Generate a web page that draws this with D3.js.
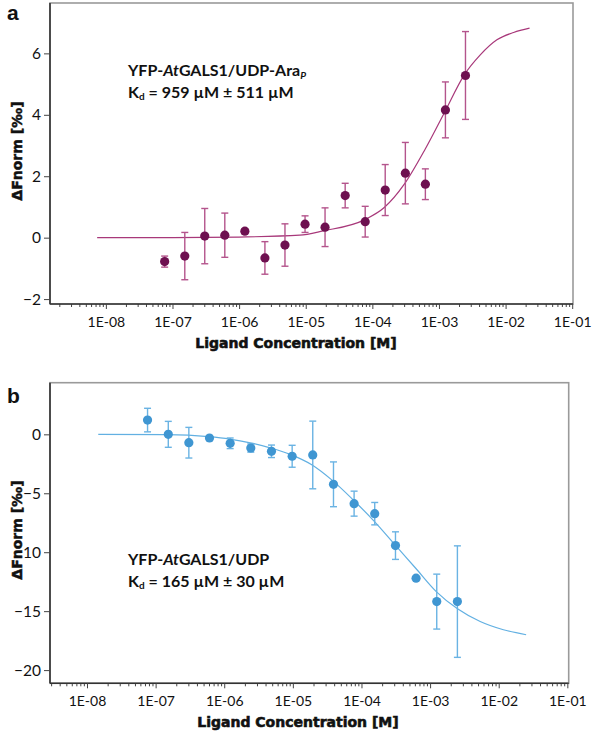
<!DOCTYPE html>
<html><head><meta charset="utf-8">
<script src="https://cdn.jsdelivr.net/npm/d3@7"></script>
<style>body{margin:0;background:#fff}</style>
</head><body><svg id="c" width="598" height="732"></svg>
<script>
// ---- data ----
const concentrations = [7.63e-8, 1.53e-7, 3.05e-7, 6.10e-7, 1.22e-6, 2.44e-6, 4.88e-6, 9.77e-6,
  1.95e-5, 3.91e-5, 7.81e-5, 1.56e-4, 3.13e-4, 6.25e-4, 1.25e-3, 2.50e-3];
const valuesA = [-0.78, -0.60, 0.05, 0.08, 0.21, -0.66, -0.24, 0.44, 0.34, 1.37, 0.52, 1.55, 2.10, 1.74, 4.16, 5.28];
const errorsA = [0.18, 0.77, 0.90, 0.72, 0.08, 0.53, 0.69, 0.27, 0.63, 0.40, 0.50, 0.83, 1.00, 0.50, 0.91, 1.43];
const valuesB = [1.21, 0.00, -0.71, -0.31, -0.76, -1.16, -1.44, -1.86, -1.75, -4.24, -5.88, -6.73, -9.44, -12.2, -14.19, -14.19];
const errorsB = [1.00, 1.10, 1.30, 0.15, 0.45, 0.35, 0.53, 0.93, 2.87, 1.90, 1.06, 0.95, 1.17, 0.10, 2.33, 4.73];
const fitConcA = [7.4e-9, 1e-7, 1e-6, 8.1e-6, 1.82e-5, 7.6e-5, 1.51e-4, 3.02e-4, 6.17e-4, 1.2e-3, 2.4e-3, 4.17e-3, 7.41e-3, 1.32e-2, 2.29e-2];
const fitValuesA = [0, 0, 0.02, 0.08, 0.22, 0.58, 0.98, 1.74, 2.87, 4.06, 5.3, 5.95, 6.44, 6.68, 6.82];
const fitConcB = [1.46e-8, 1.45e-7, 5.89e-7, 1.2e-6, 2.4e-6, 4.68e-6, 9.12e-6, 1.91e-5, 3.8e-5, 7.59e-5, 1.55e-4, 3.09e-4, 6.17e-4, 1.23e-3, 2.51e-3, 5.37e-3, 1.17e-2, 2.51e-2];
const fitValuesB = [0, -0.03, -0.2, -0.4, -0.72, -1.15, -1.7, -2.6, -3.93, -5.57, -7.4, -9.38, -11.36, -13.34, -14.8, -15.88, -16.58, -17.0];
const xMajorTicks = [1e-8, 1e-7, 1e-6, 1e-5, 1e-4, 1e-3, 1e-2, 1e-1];
const xTickLabels = ["1E-08", "1E-07", "1E-06", "1E-05", "1E-04", "1E-03", "1E-02", "1E-01"];
const yTicksA = [-2, 0, 2, 4, 6];
const yTicksB = [0, -5, -10, -15, -20];

const svg = d3.select("#c");

function panel(cfg) {
  const x = d3.scaleLog().domain(cfg.xDomain).range([cfg.left, cfg.right]);
  const y = d3.scaleLinear().domain(cfg.yDomain).range([cfg.bottom, cfg.top]);
  const g = svg.append("g");

  // frame (top/right lighter)
  g.append("rect").attr("x", cfg.left).attr("y", cfg.top)
    .attr("width", cfg.right - cfg.left).attr("height", cfg.bottom - cfg.top)
    .attr("fill", "none").attr("stroke", "#9a9a9a").attr("stroke-width", 1.6);

  // x axis: minor ticks
  const minor = x.ticks().filter(v => !xMajorTicks.some(m => Math.abs(m - v) / m < 1e-6));
  const gxMinor = g.append("g").attr("transform", `translate(0,${cfg.bottom})`)
    .call(d3.axisBottom(x).tickValues(minor).tickSize(3).tickFormat(""));
  gxMinor.select(".domain").remove();
  gxMinor.selectAll("line").attr("stroke", "#444");
  const gx = g.append("g").attr("transform", `translate(0,${cfg.bottom})`)
    .call(d3.axisBottom(x).tickValues(xMajorTicks).tickSize(5).tickPadding(8)
      .tickFormat((d, i) => xTickLabels[i]));
  gx.select(".domain").attr("stroke", "#333").attr("stroke-width", 1.6)
    .attr("d", `M${cfg.left},0H${cfg.right}`);
  gx.selectAll("line").attr("stroke", "#444");
  gx.selectAll("text").attr("font-family", "Lato, 'Liberation Sans', sans-serif")
    .attr("font-size", 14).attr("fill", "#111");

  // y axis
  const gy = g.append("g").attr("transform", `translate(${cfg.left},0)`)
    .call(d3.axisLeft(y).tickValues(cfg.yTicks).tickSize(6).tickPadding(3));
  gy.select(".domain").attr("stroke", "#333").attr("stroke-width", 1.6)
    .attr("d", `M0,${cfg.top}V${cfg.bottom}`);
  gy.selectAll("line").attr("stroke", "#444");
  gy.selectAll("text").attr("font-family", "Lato, 'Liberation Sans', sans-serif")
    .attr("font-size", 15.5).attr("fill", "#111");

  // fit curve
  const line = d3.line().x(d => x(d[0])).y(d => y(d[1])).curve(d3.curveMonotoneX);
  g.append("path").datum(cfg.fitConc.map((c, i) => [c, cfg.fitValues[i]]))
    .attr("d", line).attr("fill", "none").attr("stroke", cfg.lineColor).attr("stroke-width", 1.2);

  // error bars
  const eb = g.append("g").attr("stroke", cfg.errColor).attr("stroke-width", 1.4);
  concentrations.forEach((c, i) => {
    const v = cfg.values[i], e = cfg.errors[i], px = x(c);
    eb.append("line").attr("x1", px).attr("x2", px).attr("y1", y(v + e)).attr("y2", y(v - e));
    eb.append("line").attr("x1", px - 3.5).attr("x2", px + 3.5).attr("y1", y(v + e)).attr("y2", y(v + e));
    eb.append("line").attr("x1", px - 3.5).attr("x2", px + 3.5).attr("y1", y(v - e)).attr("y2", y(v - e));
  });
  // points
  g.selectAll("circle.pt").data(concentrations).enter().append("circle")
    .attr("cx", d => x(d)).attr("cy", (d, i) => y(cfg.values[i])).attr("r", 4.6)
    .attr("fill", cfg.pointColor);

  // axis titles (heavy weight)
  g.append("text").attr("x", cfg.xTitleX).attr("y", cfg.xTitleY).attr("text-anchor", "middle")
    .attr("font-family", "'DejaVu Sans', sans-serif").attr("font-weight", "bold").attr("font-size", 14)
    .attr("fill", "#111").attr("stroke", "#111").attr("stroke-width", 0.6)
    .text("Ligand Concentration [M]");
  g.append("text").attr("transform", `translate(22,${cfg.yTitleY}) rotate(-90)`).attr("text-anchor", "middle")
    .attr("font-family", "'DejaVu Sans', sans-serif").attr("font-weight", "bold").attr("font-size", 14)
    .attr("fill", "#111").attr("stroke", "#111").attr("stroke-width", 0.5)
    .text("ΔFnorm [‰]");

  // panel letter
  g.append("text").attr("x", 7).attr("y", cfg.letterY)
    .attr("font-family", "'Liberation Sans', Arial, sans-serif").attr("font-weight", "bold")
    .attr("font-size", 21).attr("fill", "#111").text(cfg.letter);

  // annotation
  const ff = "Lato, 'Liberation Sans', sans-serif";
  const t1 = g.append("text").attr("x", 128).attr("y", cfg.annY).attr("font-family", ff)
    .attr("font-weight", "bold").attr("font-size", 16).attr("fill", "#111");
  t1.append("tspan").text("YFP-");
  t1.append("tspan").attr("font-style", "italic").text("At");
  t1.append("tspan").text(cfg.ligand);
  if (cfg.ligandSub) {
    t1.append("tspan").attr("font-style", "italic").attr("font-size", 10).attr("dy", 3).text(cfg.ligandSub);
  }
  const t2 = g.append("text").attr("x", 128).attr("y", cfg.annY + 22).attr("font-family", ff)
    .attr("font-weight", "bold").attr("font-size", 16).attr("fill", "#111");
  t2.append("tspan").text("K");
  t2.append("tspan").attr("font-size", 10).attr("dy", 2).text("d");
  t2.append("tspan").attr("dy", -2).text(cfg.kdText);
}

panel({
  left: 50, right: 573, top: 3, bottom: 304,
  xDomain: [1.45e-9, 0.1028], yDomain: [-2.16, 7.64], yTicks: yTicksA,
  values: valuesA, errors: errorsA, fitConc: fitConcA, fitValues: fitValuesA,
  pointColor: "#6e1050", lineColor: "#a8387a", errColor: "#b4548c",
  xTitleX: 296, xTitleY: 348, yTitleY: 151, letter: "a", letterY: 20,
  annY: 76, ligand: "GALS1/UDP-Ara", ligandSub: "P", kdText: " = 959 µM ± 511 µM"
});
panel({
  left: 50, right: 568.7, top: 382.7, bottom: 683.3,
  xDomain: [2.89e-9, 0.1047], yDomain: [-21.12, 4.38], yTicks: yTicksB,
  values: valuesB, errors: errorsB, fitConc: fitConcB, fitValues: fitValuesB,
  pointColor: "#3f96d2", lineColor: "#62b0e2", errColor: "#6ab3e3",
  xTitleX: 298, xTitleY: 727, yTitleY: 530, letter: "b", letterY: 403,
  annY: 565, ligand: "GALS1/UDP", ligandSub: null, kdText: " = 165 µM ± 30 µM"
});
</script>
</body></html>
